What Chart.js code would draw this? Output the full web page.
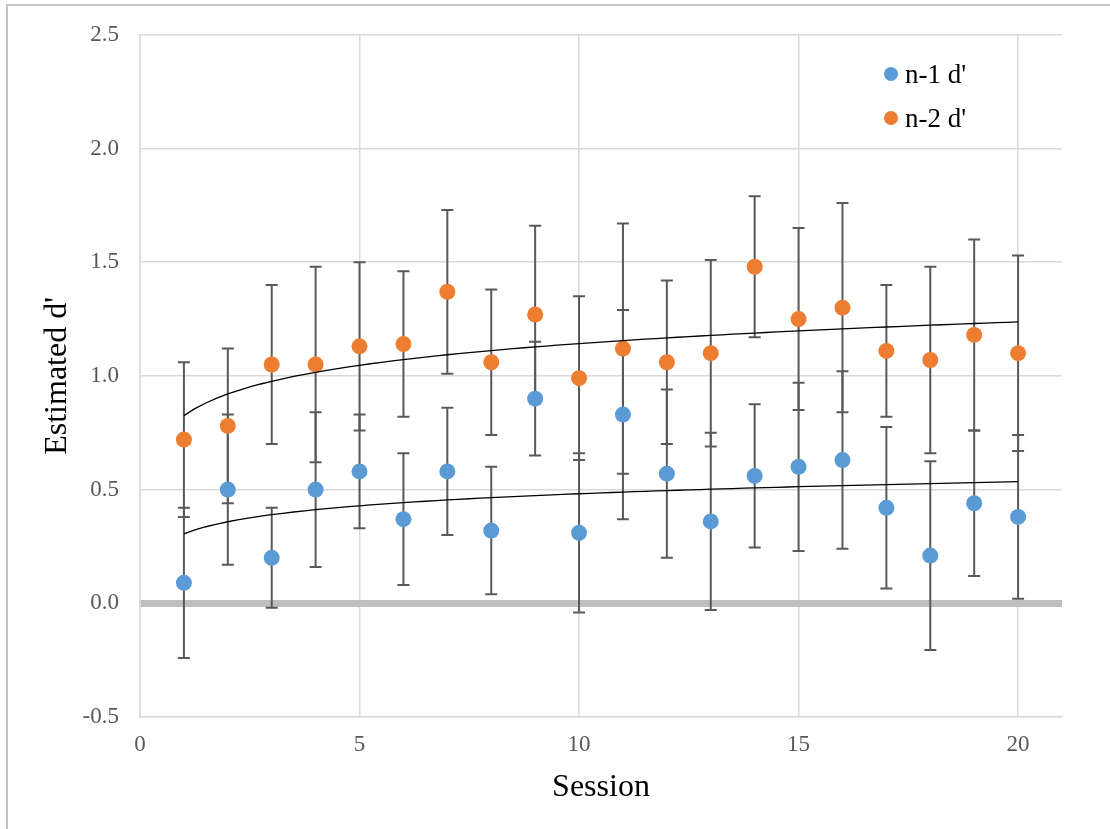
<!DOCTYPE html>
<html>
<head>
<meta charset="utf-8">
<script src="https://cdn.jsdelivr.net/npm/chart.js@4"></script>
<style>
  body { margin: 0; background: #fff; }
  canvas { display: block; }
</style>
</head>
<body>
<canvas id="chart" width="1110" height="829"></canvas>
<script>
// Session numbers and estimated d' values
const sessions = [1, 2, 3, 4, 5, 6, 7, 8, 9, 10, 11, 12, 13, 14, 15, 16, 17, 18, 19, 20];
const n1Values = [0.09, 0.50, 0.20, 0.50, 0.58, 0.37, 0.58, 0.32, 0.90, 0.31, 0.83, 0.57, 0.36, 0.56, 0.60, 0.63, 0.42, 0.21, 0.44, 0.38];
const n1Errors = [0.33, 0.33, 0.22, 0.34, 0.25, 0.29, 0.28, 0.28, 0.25, 0.35, 0.46, 0.37, 0.39, 0.315, 0.37, 0.39, 0.355, 0.415, 0.32, 0.36];
const n2Values = [0.72, 0.78, 1.05, 1.05, 1.13, 1.14, 1.37, 1.06, 1.27, 0.99, 1.12, 1.06, 1.10, 1.48, 1.25, 1.30, 1.11, 1.07, 1.18, 1.10];
const n2Errors = [0.34, 0.34, 0.35, 0.43, 0.37, 0.32, 0.36, 0.32, 0.39, 0.36, 0.55, 0.36, 0.41, 0.31, 0.40, 0.46, 0.29, 0.41, 0.42, 0.43];
const xTicks = [0, 5, 10, 15, 20];
const yTicks = [-0.5, 0, 0.5, 1.0, 1.5, 2.0, 2.5];

// logarithmic trendline (least squares on ln x), like the spreadsheet one
function logFit(xs, ys) {
  const lx = xs.map(Math.log);
  const n = xs.length;
  const mx = lx.reduce((a, b) => a + b) / n;
  const my = ys.reduce((a, b) => a + b) / n;
  let sxy = 0, sxx = 0;
  for (let i = 0; i < n; i++) {
    sxy += (lx[i] - mx) * (ys[i] - my);
    sxx += (lx[i] - mx) * (lx[i] - mx);
  }
  const b = sxy / sxx;
  const a = my - b * mx;
  return x => a + b * Math.log(x);
}

function trendPoints(ys) {
  const f = logFit(sessions, ys);
  const pts = [];
  for (let x = sessions[0]; x <= sessions[sessions.length - 1] + 1e-9; x += 0.25) {
    pts.push({ x: x, y: f(x) });
  }
  return pts;
}

const toPoints = ys => sessions.map((s, i) => ({ x: s, y: ys[i] }));

const serif = '"Liberation Serif", "Times New Roman", serif';

// error bars drawn under the markers
const errorBars = {
  id: 'errorBars',
  beforeDatasetsDraw(chart) {
    const ctx = chart.ctx;
    const xs = chart.scales.x, ys = chart.scales.y;
    ctx.save();
    ctx.strokeStyle = '#595959';
    ctx.lineWidth = 2;
    chart.data.datasets.forEach(ds => {
      if (!ds.errors) return;
      ds.data.forEach((p, i) => {
        const px = xs.getPixelForValue(p.x);
        const top = ys.getPixelForValue(p.y + ds.errors[i]);
        const bot = ys.getPixelForValue(p.y - ds.errors[i]);
        ctx.beginPath();
        ctx.moveTo(px, top); ctx.lineTo(px, bot);
        ctx.moveTo(px - 6, top); ctx.lineTo(px + 6, top);
        ctx.moveTo(px - 6, bot); ctx.lineTo(px + 6, bot);
        ctx.stroke();
      });
    });
    ctx.restore();
  }
};

// white background, outer frame and the in-plot legend
const frame = {
  id: 'frame',
  beforeDraw(chart) {
    const ctx = chart.ctx;
    ctx.save();
    ctx.fillStyle = '#fff';
    ctx.fillRect(0, 0, chart.width, chart.height);
    ctx.strokeStyle = '#C4C4C4';
    ctx.lineWidth = 2;
    ctx.strokeRect(7, 5, 1200, 1000);
    ctx.restore();
  },
  afterDraw(chart) {
    const ctx = chart.ctx;
    ctx.save();
    ctx.font = '27px ' + serif;
    ctx.textBaseline = 'alphabetic';
    chart.data.datasets.filter(ds => ds.errors).forEach((ds, i) => {
      ctx.fillStyle = ds.backgroundColor;
      ctx.beginPath();
      ctx.arc(891, 74 + i * 44, 7, 0, Math.PI * 2);
      ctx.fill();
      ctx.fillStyle = '#000';
      ctx.fillText(ds.label, 905, 83 + i * 44);
    });
    ctx.restore();
  }
};

const ctx = document.getElementById('chart').getContext('2d');
new Chart(ctx, {
  type: 'scatter',
  data: {
    datasets: [
      {
        label: "n-1 d'",
        data: toPoints(n1Values),
        errors: n1Errors,
        backgroundColor: '#5B9BD5',
        borderColor: '#5B9BD5',
        pointRadius: 8,
        pointBorderWidth: 0,
        order: 2
      },
      {
        label: "n-2 d'",
        data: toPoints(n2Values),
        errors: n2Errors,
        backgroundColor: '#ED7D31',
        borderColor: '#ED7D31',
        pointRadius: 8,
        pointBorderWidth: 0,
        order: 1
      },
      {
        label: 'n-1 trend',
        type: 'line',
        data: trendPoints(n1Values),
        borderColor: '#000',
        borderWidth: 1.3,
        pointRadius: 0,
        fill: false,
        order: 0
      },
      {
        label: 'n-2 trend',
        type: 'line',
        data: trendPoints(n2Values),
        borderColor: '#000',
        borderWidth: 1.3,
        pointRadius: 0,
        fill: false,
        order: 0
      }
    ]
  },
  options: {
    responsive: false,
    animation: false,
    devicePixelRatio: 1,
    layout: { padding: { left: 0, top: 30, right: 48, bottom: 0 } },
    plugins: {
      legend: { display: false },
      tooltip: { enabled: false }
    },
    scales: {
      x: {
        type: 'linear',
        min: 0,
        max: 21,
        afterBuildTicks: s => { s.ticks = xTicks.map(v => ({ value: v })); },
        afterFit: s => { s.height = 112; },
        grid: {
          color: '#D9D9D9',
          lineWidth: 1.5,
          drawTicks: false
        },
        border: { color: '#D9D9D9', width: 1.5 },
        ticks: {
          padding: 14,
          color: '#595959',
          font: { family: serif, size: 23 },
          maxRotation: 0
        },
        title: {
          display: true,
          text: 'Session',
          color: '#000',
          font: { family: serif, size: 32, lineHeight: 1.2 },
          padding: { top: 0, bottom: 22 }
        }
      },
      y: {
        min: -0.5,
        max: 2.5,
        afterBuildTicks: s => { s.ticks = yTicks.map(v => ({ value: v })); },
        afterFit: s => { s.width = 140; },
        grid: {
          color: c => (c.tick && c.tick.value === 0 ? '#BFBFBF' : '#D9D9D9'),
          lineWidth: c => (c.tick && c.tick.value === 0 ? 7 : 1.5),
          drawTicks: false
        },
        border: { color: '#D9D9D9', width: 1.5 },
        ticks: {
          padding: 21,
          color: '#595959',
          font: { family: serif, size: 23 },
          callback: v => v.toFixed(1)
        },
        title: {
          display: true,
          text: "Estimated d'",
          color: '#000',
          font: { family: serif, size: 32, lineHeight: 1.2 },
          padding: { top: 38, bottom: 0 }
        }
      }
    }
  },
  plugins: [errorBars, frame]
});
</script>
</body>
</html>
